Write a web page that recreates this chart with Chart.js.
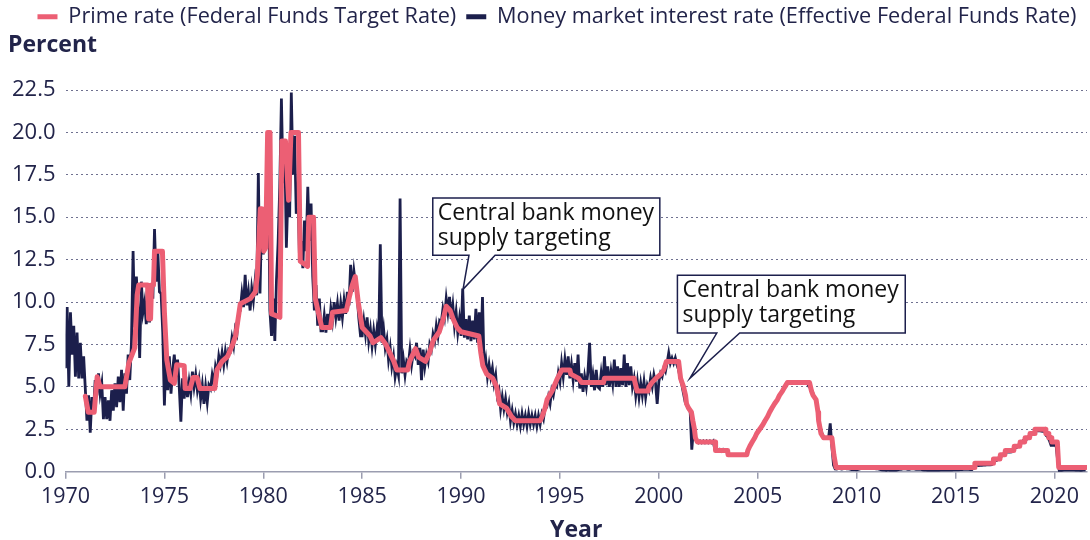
<!DOCTYPE html>
<html>
<head>
<meta charset="utf-8">
<script src="https://cdn.jsdelivr.net/npm/chart.js@4.4.0/dist/chart.umd.min.js"></script>
<style>
  html, body { margin: 0; padding: 0; background: #fff; }
  #wrap { width: 1090px; height: 540px; }
</style>
</head>
<body>
<div id="wrap"><canvas id="rates"></canvas></div>
<script>
// effective rate, one row per year (Jan..Dec), starting 1970
var effFirstYear = 1970;
var effectiveRate = [
  [6.1, 9.7, 5.0, 9.4, 6.9, 8.6, 5.6, 8.2, 5.5, 7.6, 5.5, 6.8],   // 1970
  [4.9, 3.0, 4.5, 2.3, 4.4, 3.6, 5.4, 4.5, 5.8, 4.6, 5.2, 3.1],
  [4.4, 3.1, 4.2, 3.0, 4.8, 3.6, 5.2, 3.8, 5.6, 4.1, 6.0, 3.6],
  [5.8, 4.6, 6.9, 5.4, 7.6, 13.0, 8.5, 11.5, 9.6, 6.7, 11.2, 9.4],
  [10.0, 8.7, 9.8, 8.8, 11.0, 10.2, 14.3, 11.2, 13.0, 10.6, 10.5, 8.2],
  [3.9, 6.9, 4.8, 6.8, 4.6, 6.0, 6.9, 5.6, 6.6, 5.0, 2.95, 5.5],  // 1975
  [4.3, 5.6, 4.4, 5.3, 4.6, 5.9, 5.0, 5.7, 4.8, 5.4, 4.3, 5.1],
  [4.0, 5.0, 4.1, 5.1, 4.9, 5.7, 5.2, 6.2, 5.8, 6.8, 6.3, 7.0],
  [6.3, 7.1, 6.5, 7.2, 7.1, 7.9, 7.4, 8.4, 8.1, 9.3, 9.5, 10.5],
  [9.7, 11.6, 9.8, 10.6, 9.5, 10.8, 10.1, 11.2, 10.4, 17.6, 10.5, 15.0],
  [12.8, 15.2, 13.2, 18.8, 9.5, 8.0, 10.2, 7.7, 11.3, 13.5, 16.8, 22.0], // 1980
  [17.0, 19.5, 13.2, 16.5, 15.0, 22.35, 17.5, 19.8, 15.2, 16.8, 12.4, 13.6],
  [12.0, 14.8, 13.0, 16.8, 13.6, 15.8, 11.5, 9.5, 11.0, 8.6, 10.2, 8.3],
  [8.3, 9.2, 8.2, 9.3, 8.4, 9.6, 8.9, 10.0, 9.1, 9.9, 8.9, 9.9],
  [9.1, 10.1, 9.3, 10.6, 9.8, 12.2, 10.6, 11.8, 11.0, 10.3, 9.0, 8.0],
  [8.0, 8.9, 8.1, 9.1, 7.7, 8.4, 7.4, 8.3, 7.5, 8.4, 7.7, 13.4],  // 1985
  [7.6, 8.4, 7.3, 7.8, 6.6, 7.3, 6.2, 6.8, 5.6, 6.2, 5.7, 16.1],
  [5.8, 6.6, 5.7, 6.5, 6.3, 7.2, 6.3, 7.0, 6.8, 7.6, 6.3, 7.3],
  [5.4, 7.2, 6.2, 6.9, 6.5, 7.5, 7.2, 8.1, 7.7, 8.6, 8.0, 8.9],
  [8.8, 9.6, 9.1, 10.2, 9.4, 10.3, 9.0, 9.8, 8.6, 9.4, 8.2, 9.0],
  [8.0, 10.8, 7.9, 9.0, 7.8, 9.2, 7.7, 8.9, 7.8, 9.6, 7.6, 9.4],  // 1990
  [6.9, 10.3, 6.0, 6.6, 5.6, 6.3, 5.6, 6.1, 5.2, 5.7, 4.5, 4.8],
  [3.7, 4.4, 3.7, 4.3, 3.5, 4.0, 3.0, 3.6, 2.9, 3.4, 2.8, 3.3],
  [2.7, 3.4, 2.8, 3.3, 2.7, 3.4, 2.8, 3.3, 2.8, 3.3, 2.7, 3.3],
  [2.8, 3.4, 3.1, 3.8, 3.8, 4.4, 4.0, 4.8, 4.5, 5.1, 5.0, 5.8],
  [5.3, 6.4, 5.6, 6.6, 5.7, 6.8, 5.5, 6.3, 5.4, 6.4, 5.3, 6.9],  // 1995
  [4.9, 5.8, 4.7, 5.6, 5.0, 5.9, 7.6, 5.0, 5.7, 4.8, 6.0, 5.0],
  [4.9, 5.8, 5.0, 6.8, 5.1, 6.2, 5.0, 5.9, 5.2, 6.6, 5.0, 6.2],
  [5.0, 6.1, 5.1, 6.9, 5.0, 6.4, 5.1, 6.2, 5.0, 5.5, 4.5, 5.3],
  [4.4, 5.2, 4.5, 5.3, 4.4, 5.1, 4.8, 5.5, 5.0, 5.7, 5.2, 4.0],
  [5.3, 5.8, 5.6, 6.1, 5.9, 6.4, 6.99, 6.4, 6.7, 6.4, 6.7, 6.3], // 2000
  [6.0, 5.5, 5.1, 4.6, 4.1, 3.9, 3.7, 3.6, 1.3, 2.5, 2.0, 1.8],
  [1.7, 1.8, 1.7, 1.8, 1.7, 1.8, 1.7, 1.8, 1.7, 1.8, 1.3, 1.2],
  [1.2, 1.3, 1.2, 1.3, 1.2, 1.2, 1.0, 1.0, 1.0, 1.0, 1.0, 1.0],
  [1.0, 1.0, 1.0, 1.0, 1.0, 1.0, 1.26, 1.43, 1.61, 1.76, 1.93, 2.16],
  [2.28, 2.5, 2.63, 2.79, 3.0, 3.04, 3.26, 3.5, 3.62, 3.78, 4.0, 4.16], // 2005
  [4.29, 4.49, 4.59, 4.79, 4.94, 4.99, 5.24, 5.25, 5.25, 5.25, 5.25, 5.24],
  [5.25, 5.26, 5.26, 5.25, 5.25, 5.25, 5.26, 5.02, 4.94, 4.76, 4.49, 4.24],
  [3.94, 2.98, 2.61, 2.28, 1.98, 2.0, 2.01, 2.0, 2.85, 1.5, 0.39, 0.16],
  [0.15, 0.22, 0.18, 0.15, 0.18, 0.21, 0.16, 0.16, 0.15, 0.12, 0.12, 0.12],
  [0.11, 0.13, 0.16, 0.2, 0.2, 0.18, 0.18, 0.19, 0.19, 0.19, 0.19, 0.18], // 2010
  [0.17, 0.16, 0.14, 0.1, 0.09, 0.09, 0.07, 0.1, 0.08, 0.07, 0.08, 0.07],
  [0.08, 0.1, 0.13, 0.14, 0.16, 0.16, 0.16, 0.13, 0.14, 0.16, 0.16, 0.16],
  [0.14, 0.15, 0.14, 0.15, 0.11, 0.09, 0.09, 0.08, 0.08, 0.09, 0.08, 0.09],
  [0.07, 0.07, 0.08, 0.09, 0.09, 0.1, 0.09, 0.09, 0.09, 0.09, 0.09, 0.12],
  [0.11, 0.11, 0.11, 0.12, 0.12, 0.13, 0.13, 0.14, 0.14, 0.12, 0.12, 0.24], // 2015
  [0.34, 0.38, 0.36, 0.37, 0.37, 0.38, 0.39, 0.4, 0.4, 0.4, 0.41, 0.54],
  [0.65, 0.66, 0.79, 0.9, 0.91, 1.04, 1.15, 1.16, 1.15, 1.15, 1.16, 1.3],
  [1.41, 1.42, 1.51, 1.69, 1.7, 1.82, 1.91, 1.91, 1.95, 2.19, 2.2, 2.27],
  [2.4, 2.4, 2.41, 2.42, 2.39, 2.38, 2.4, 2.13, 2.04, 1.83, 1.55, 1.55],
  [1.55, 1.58, 0.65, 0.05, 0.05, 0.08, 0.09, 0.1, 0.09, 0.09, 0.09, 0.09], // 2020
  [0.09, 0.08, 0.07, 0.07, 0.06, 0.08, 0.1, 0.09]
];

// target rate, [year, percent] at each corner of the line
var targetRate = [
  [1971.0, 4.45], [1971.15, 3.5], [1971.45, 3.5], [1971.6, 5.6], [1971.75, 5.0], [1973.0, 5.0],
  [1973.2, 6.4], [1973.5, 7.3], [1973.62, 10.4], [1973.7, 11.0], [1974.15, 11.0], [1974.2, 9.0],
  [1974.3, 9.0], [1974.35, 11.0], [1974.45, 11.0], [1974.5, 13.0], [1974.9, 13.0], [1975.0, 9.4],
  [1975.12, 6.6], [1975.3, 5.4], [1975.5, 5.2], [1975.62, 6.3], [1976.0, 6.25], [1976.05, 4.9],
  [1976.3, 4.9], [1976.45, 5.55], [1976.65, 5.55], [1976.8, 4.9], [1977.55, 4.9], [1977.66, 6.0],
  [1977.92, 6.5], [1978.2, 6.8], [1978.45, 7.5], [1978.6, 8.0], [1978.84, 9.9], [1979.34, 10.2],
  [1979.6, 10.6], [1979.7, 11.6], [1979.85, 15.5], [1979.93, 15.5], [1980.02, 13.0], [1980.12, 13.2],
  [1980.22, 20.0], [1980.34, 20.0], [1980.42, 9.3], [1980.84, 9.1], [1980.94, 19.5], [1981.12, 19.5],
  [1981.28, 16.0], [1981.4, 20.0], [1981.78, 20.0], [1981.87, 12.4], [1982.24, 12.1], [1982.3, 15.0],
  [1982.54, 15.0], [1982.63, 10.2], [1982.8, 9.3], [1982.96, 8.5], [1983.4, 8.5], [1983.5, 9.4],
  [1984.2, 9.5], [1984.35, 10.3], [1984.5, 11.0], [1984.65, 11.5], [1984.8, 10.0], [1985.0, 8.5],
  [1985.4, 8.0], [1985.55, 7.6], [1985.95, 7.9], [1986.2, 7.5], [1986.4, 7.0], [1986.6, 6.5],
  [1986.75, 6.0], [1987.3, 6.0], [1987.4, 6.5], [1987.7, 7.25], [1987.85, 6.75], [1988.2, 6.5],
  [1988.4, 7.0], [1988.6, 7.75], [1988.9, 8.25], [1989.1, 9.0], [1989.25, 9.75], [1989.45, 9.5],
  [1989.6, 9.0], [1989.8, 8.5], [1990.0, 8.25], [1990.9, 8.0], [1991.0, 7.0], [1991.1, 6.25],
  [1991.3, 5.75], [1991.6, 5.5], [1991.8, 5.0], [1991.95, 4.0], [1992.3, 3.75], [1992.55, 3.25],
  [1992.75, 3.0], [1994.0, 3.0], [1994.1, 3.25], [1994.25, 3.75], [1994.35, 4.25], [1994.6, 4.75],
  [1994.87, 5.5], [1995.1, 6.0], [1995.5, 6.0], [1995.55, 5.75], [1995.95, 5.5], [1996.1, 5.25],
  [1997.2, 5.25], [1997.25, 5.5], [1998.75, 5.5], [1998.8, 5.25], [1998.85, 5.0], [1998.9, 4.75],
  [1999.45, 4.75], [1999.5, 5.0], [1999.65, 5.25], [1999.85, 5.5], [2000.1, 5.75], [2000.25, 6.0],
  [2000.38, 6.5], [2001.0, 6.5], [2001.05, 6.0], [2001.1, 5.5], [2001.25, 5.0], [2001.35, 4.5],
  [2001.4, 4.0], [2001.5, 3.75], [2001.65, 3.5], [2001.72, 3.0], [2001.8, 2.5], [2001.85, 2.0],
  [2001.95, 1.75], [2002.85, 1.75], [2002.87, 1.25], [2003.48, 1.25], [2003.5, 1.0], [2004.45, 1.0],
  [2004.5, 1.25], [2004.6, 1.5], [2004.72, 1.75], [2004.85, 2.0], [2004.95, 2.25], [2005.1, 2.5],
  [2005.25, 2.75], [2005.37, 3.0], [2005.5, 3.25], [2005.6, 3.5], [2005.72, 3.75], [2005.85, 4.0],
  [2006.0, 4.25], [2006.1, 4.5], [2006.25, 4.75], [2006.37, 5.0], [2006.5, 5.25], [2007.62, 5.25],
  [2007.72, 4.75], [2007.8, 4.5], [2007.95, 4.25], [2008.05, 3.5], [2008.08, 3.0], [2008.2, 2.25],
  [2008.33, 2.0], [2008.75, 2.0], [2008.8, 1.5], [2008.85, 1.0], [2008.96, 0.25], [2015.96, 0.25],
  [2015.98, 0.5], [2016.9, 0.5], [2016.92, 0.75], [2017.25, 0.75], [2017.27, 1.0], [2017.5, 1.0],
  [2017.52, 1.25], [2017.95, 1.25], [2017.97, 1.5], [2018.25, 1.5], [2018.27, 1.75], [2018.5, 1.75],
  [2018.52, 2.0], [2018.75, 2.0], [2018.77, 2.25], [2019.0, 2.25], [2019.02, 2.5], [2019.55, 2.5],
  [2019.57, 2.25], [2019.7, 2.25], [2019.72, 2.0], [2019.85, 2.0], [2019.87, 1.75], [2020.15, 1.75],
  [2020.22, 0.25], [2021.6, 0.25]
];

var seriesNames = ['Prime rate (Federal Funds Target Rate)', 'Money market interest rate (Effective Federal Funds Rate)'];
var xTicks = [1970, 1975, 1980, 1985, 1990, 1995, 2000, 2005, 2010, 2015, 2020];
var yTicks = [0, 2.5, 5, 7.5, 10, 12.5, 15, 17.5, 20, 22.5];

// callouts: text, tip [year, %], box [left, right, top, bottom], pointer base [year, year]
var calloutText = ['Central bank money', 'supply targeting'];
var calloutTips = [[1990.1, 10.75], [2001.57, 5.5]];
var calloutBoxes = [[1988.57, 2000.05, 16.13, 12.76], [2000.94, 2012.46, 11.58, 8.17]];
var calloutBases = [[1990.4, 1991.72], [2002.93, 2004.09]];

var navy = '#1c1f4c';
var pink = '#ec5f74';
var textCol = '#22244a';
var fontName = "'Open Sans', 'Noto Sans', sans-serif";

var effPoints = [];
for (var r = 0; r < effectiveRate.length; r++) {
  for (var m = 0; m < effectiveRate[r].length; m++) {
    effPoints.push({x: effFirstYear + r + m / 12, y: effectiveRate[r][m]});
  }
}
var targetPoints = targetRate.map(p => ({x: p[0], y: p[1]}));

var calloutPlugin = {
  id: 'callouts',
  afterDatasetsDraw(chart) {
    var ctx = chart.ctx, xs = chart.scales.x, ys = chart.scales.y;
    ctx.save();
    for (var i = 0; i < calloutBoxes.length; i++) {
      var b = calloutBoxes[i], base = calloutBases[i], tip = calloutTips[i];
      var l = xs.getPixelForValue(b[0]), r = xs.getPixelForValue(b[1]);
      var t = ys.getPixelForValue(b[2]), btm = ys.getPixelForValue(b[3]);
      ctx.beginPath();
      ctx.moveTo(l, t);
      ctx.lineTo(r, t);
      ctx.lineTo(r, btm);
      ctx.lineTo(xs.getPixelForValue(base[1]), btm);
      ctx.lineTo(xs.getPixelForValue(tip[0]), ys.getPixelForValue(tip[1]));
      ctx.lineTo(xs.getPixelForValue(base[0]), btm);
      ctx.lineTo(l, btm);
      ctx.closePath();
      ctx.fillStyle = '#fff';
      ctx.fill();
      ctx.lineWidth = 1.5;
      ctx.strokeStyle = navy;
      ctx.stroke();
      ctx.fillStyle = '#111';
      ctx.font = '23px ' + fontName;
      ctx.textBaseline = 'alphabetic';
      ctx.fillText(calloutText[0], l + 5, t + 22);
      ctx.fillText(calloutText[1], l + 5, t + 47);
    }
    ctx.restore();
  }
};

// nudge legend row and "Percent" heading into place, as in the source picture
var boxShift = {
  id: 'boxShift',
  afterLayout(chart) {
    var lg = chart.legend, tb = chart.titleBlock;
    lg.left += 12.5; lg.right += 12.5;
    lg.top -= 4; lg.bottom -= 4;
    tb.left += 6; tb.right += 6;
    tb.top -= 9; tb.bottom -= 9;
  }
};

var chart = new Chart(document.getElementById('rates'), {
  type: 'line',
  data: {
    datasets: [{
      label: seriesNames[0],
      data: targetPoints,
      borderColor: pink,
      backgroundColor: pink,
      borderWidth: 5,
      borderJoinStyle: 'round',
      borderCapStyle: 'round',
      pointRadius: 0
    }, {
      label: seriesNames[1],
      data: effPoints,
      borderColor: navy,
      backgroundColor: navy,
      borderWidth: 2.8,
      pointRadius: 0
    }]
  },
  options: {
    responsive: true,
    maintainAspectRatio: false,
    animation: false,
    layout: { padding: { left: 2, right: 3, top: 0, bottom: 0 } },
    font: { family: fontName },
    plugins: {
      tooltip: { enabled: false },
      legend: {
        position: 'top',
        labels: {
          color: textCol,
          font: { family: fontName, size: 21.7 },
          boxWidth: 20,
          boxHeight: 5,
          padding: 10,
          // flat bars as markers, without the thick dataset outline
          generateLabels: chart => Chart.defaults.plugins.legend.labels.generateLabels(chart)
            .map(item => Object.assign(item, { lineWidth: 0 }))
        }
      },
      title: {
        display: true,
        text: 'Percent',
        align: 'start',
        weight: 500,
        color: textCol,
        font: { family: fontName, size: 23, weight: 'bold', lineHeight: 1.1 },
        padding: { top: 0, bottom: 23 }
      }
    },
    scales: {
      x: {
        type: 'linear',
        min: 1970,
        max: 2021.65,
        afterBuildTicks: s => { s.ticks = xTicks.map(v => ({value: v})); },
        ticks: {
          color: textCol,
          font: { family: fontName, size: 21.5 },
          padding: 5,
          maxRotation: 0,
          callback: v => String(v)
        },
        grid: { drawOnChartArea: false, drawTicks: true, tickLength: 7, color: '#9b9db0', lineWidth: 1.5 },
        border: { color: '#9b9db0', width: 1.5 },
        title: {
          display: true,
          text: 'Year',
          color: textCol,
          font: { family: fontName, size: 23, weight: 'bold', lineHeight: 0.85 },
          padding: { top: 6, bottom: 0 }
        }
      },
      y: {
        min: 0,
        max: 22.5,
        afterBuildTicks: s => { s.ticks = yTicks.map(v => ({value: v})); },
        ticks: {
          color: textCol,
          font: { family: fontName, size: 22 },
          padding: 10,
          callback: v => v.toFixed(1)
        },
        grid: { drawTicks: false, color: '#6f7190', lineWidth: 1 },
        border: { display: false, dash: [2, 3] }
      }
    }
  },
  plugins: [calloutPlugin, boxShift]
});
</script>
</body>
</html>
